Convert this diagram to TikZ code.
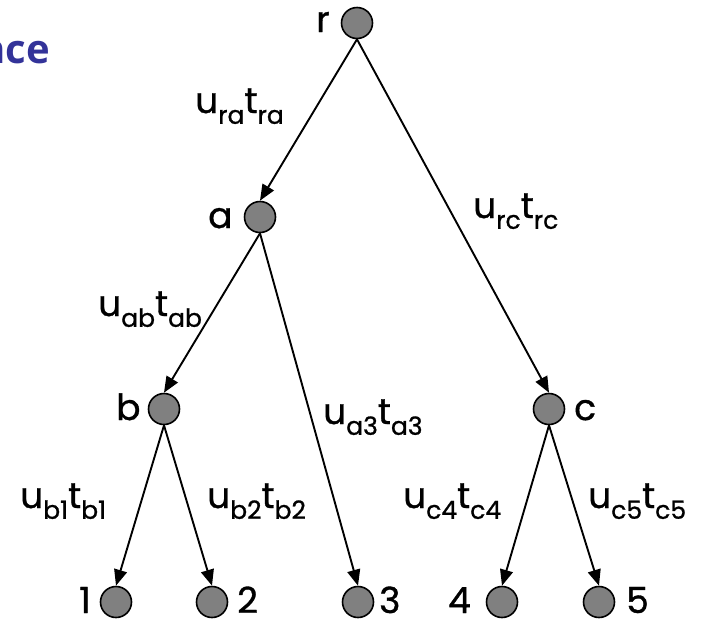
\documentclass[tikz,border=0pt]{standalone}
\usepackage{fontspec}
\setmainfont{Poppins}[FakeBold=1.2]
\newfontfamily\labelfont{Poppins}[FakeBold=1]
\newfontfamily\titlefont{Open Sans}
\usetikzlibrary{arrows.meta}
\definecolor{nodegray}{HTML}{808080}
\definecolor{titleblue}{HTML}{333399}
\newcommand\sbs[1]{\raisebox{-0.3em}{\fontsize{25}{28}\selectfont #1}}
\tikzset{
  vert/.style={circle, draw=black, line width=1.6pt, fill=nodegray, minimum size=31pt, inner sep=0pt},
  lbl/.style={font=\labelfont\fontsize{36}{42}\selectfont, inner sep=0pt, anchor=base west, text depth=0pt},
  elbl/.style={font=\labelfont\fontsize{36}{42}\selectfont, inner sep=0pt, anchor=base west},
  arc/.style={line width=1.9pt, -{Triangle[length=16pt,width=13pt]}},
  ttl/.style={font=\titlefont\bfseries\fontsize{40}{48}\selectfont, text=titleblue, inner sep=0pt, anchor=base east}
}
\begin{document}
\begin{tikzpicture}[x=1pt,y=-1pt]
\useasboundingbox (0,0) rectangle (703,619);
\node[ttl] (title) at (50,63) {nce};
% vertices
\node[vert] (r) at (357,23) {};
\node[vert] (a) at (260,217) {};
\node[vert] (b) at (164,409) {};
\node[vert] (c) at (549,409) {};
\node[vert] (n1) at (116,602) {};
\node[vert] (n2) at (212,602) {};
\node[vert] (n3) at (358,602) {};
\node[vert] (n4) at (502,602) {};
\node[vert] (n5) at (599,602) {};
% vertex labels
\node[lbl] (lr) at (316,32) {r};
\node[lbl] (la) at (208,228) {a};
\node[lbl] (lb) at (116,420) {b};
\node[lbl] (lc) at (574,420) {c};
\node[lbl] (l1) at (79,613) {1};
\node[lbl] (l2) at (237,613) {2};
\node[lbl] (l3) at (379,613) {3};
\node[lbl] (l4) at (448,613) {4};
\node[lbl] (l5) at (626,613) {5};
% edges
\draw[arc] (r.south) -- (a.north);
\draw[arc] (r.south) -- (c.north);
\draw[arc] (a.south) -- (b.north);
\draw[arc] (a.south) -- (n3.north);
\draw[arc] (b.south) -- (n1.north);
\draw[arc] (b.south) -- (n2.north);
\draw[arc] (c.south) -- (n4.north);
\draw[arc] (c.south) -- (n5.north);
% edge labels
\node[elbl] (era) at (195,113) {u\sbs{ra}t\sbs{ra}};
\node[elbl] (erc) at (473,218) {u\sbs{rc}t\sbs{rc}};
\node[elbl] (eab) at (98,316) {u\sbs{ab}t\sbs{ab}};
\node[elbl] (ea3) at (323,424) {u\sbs{a3}t\sbs{a3}};
\node[elbl] (eb1) at (20,508) {u\sbs{b1}t\sbs{b1}};
\node[elbl] (eb2) at (207,508) {u\sbs{b2}t\sbs{b2}};
\node[elbl] (ec4) at (403,508) {u\sbs{c4}t\sbs{c4}};
\node[elbl] (ec5) at (588,508) {u\sbs{c5}t\sbs{c5}};
\end{tikzpicture}
\end{document}
